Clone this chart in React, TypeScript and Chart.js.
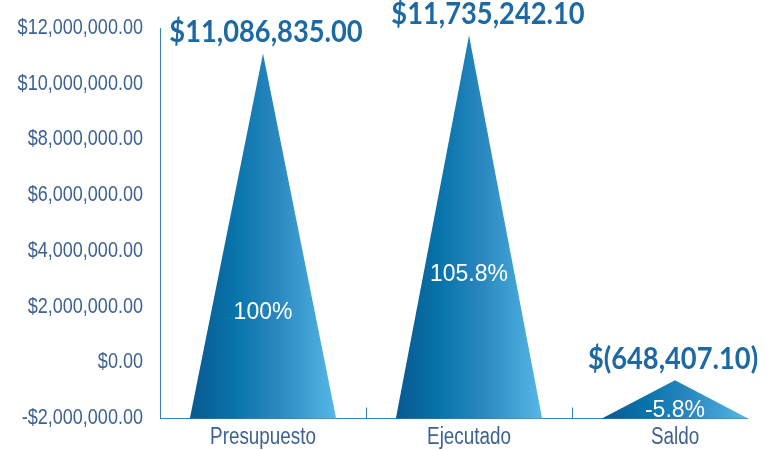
import React, { useEffect, useRef } from 'react';
import { Chart, registerables } from 'chart.js';

Chart.register(...registerables);

// ---- data ----
const categories: string[] = ['Presupuesto', 'Ejecutado', 'Saldo'];
const values: number[] = [11086835.0, 11735242.1, -648407.1];
const yMin = -2000000;
const yMax = 12000000;
const yStep = 2000000;

// ---- formatting ----
const withCommas = (v: number) => {
  const [i, d] = Math.abs(v).toFixed(2).split('.');
  return i.replace(/\B(?=(\d{3})+(?!\d))/g, ',') + '.' + d;
};
const tickLabel = (v: number) => (v < 0 ? '-' : '') + '$' + withCommas(v);
const dataLabel = (v: number) => (v < 0 ? `$(${withCommas(v)})` : `$${withCommas(v)}`);
const pctLabel = (v: number) => {
  const p = (v / values[0]) * 100;
  let s = p.toFixed(1);
  if (s.endsWith('.0')) s = s.slice(0, -2);
  return s + '%';
};

// ---- styles ----
const AXIS_COLOR = '#3b7fc0';
const TEXT_COLOR = '#3d6290';
const LABEL_COLOR = '#1c69a4';
const SANS = "'Liberation Sans', Arial, sans-serif";
const NARROW_SCALE = 0.82;
const pctFrac = [0.29, 0.375, 0.2];
const labelDx = [3, 19, -2];

function drawNarrow(ctx: CanvasRenderingContext2D, text: string, x: number, y: number, align: CanvasTextAlign) {
  ctx.save();
  ctx.translate(x, y);
  ctx.scale(NARROW_SCALE, 1);
  ctx.textAlign = align;
  ctx.textBaseline = 'middle';
  ctx.fillText(text, 0, 0);
  ctx.restore();
}

const pyramidPlugin = {
  id: 'pyramids',
  beforeDatasetsDraw(chart: any) {
    const { ctx, chartArea } = chart;
    const meta = chart.getDatasetMeta(0);
    const xs = chart.scales.x;
    const ys = chart.scales.y;
    const last: any = meta.data[meta.data.length - 1];
    const right = last.x + last.width / 2;
    const yAxis = Math.round(chartArea.bottom) + 0.5;
    ctx.save();
    ctx.strokeStyle = AXIS_COLOR;
    ctx.lineWidth = 1;
    ctx.beginPath();
    ctx.moveTo(chartArea.left, yAxis);
    ctx.lineTo(right, yAxis);
    for (let i = 1; i < categories.length; i++) {
      const bx = Math.round((xs.getPixelForValue(i - 1) + xs.getPixelForValue(i)) / 2) + 0.5;
      ctx.moveTo(bx, yAxis);
      ctx.lineTo(bx, yAxis - 11);
    }
    ctx.stroke();

    // axis labels (narrow)
    ctx.fillStyle = TEXT_COLOR;
    ctx.font = `22px ${SANS}`;
    ys.ticks.forEach((t: any) => {
      drawNarrow(ctx, tickLabel(t.value), chartArea.left - 17, ys.getPixelForValue(t.value), 'right');
    });
    ctx.font = `23px ${SANS}`;
    categories.forEach((c, i) => {
      drawNarrow(ctx, c, xs.getPixelForValue(i), chartArea.bottom + 20, 'center');
    });
    ctx.restore();
  },
  afterDatasetsDraw(chart: any) {
    const { ctx } = chart;
    const meta = chart.getDatasetMeta(0);
    ctx.save();
    meta.data.forEach((bar: any, i: number) => {
      const { x, y, base, width } = bar.getProps(['x', 'y', 'base', 'width'], true);
      const l = x - width / 2;
      const r = x + width / 2;
      const g = ctx.createLinearGradient(l, 0, r, 0);
      g.addColorStop(0, '#08598f');
      g.addColorStop(0.3, '#0873ab');
      g.addColorStop(0.6, '#2a88bf');
      g.addColorStop(1, '#55b7e7');
      ctx.fillStyle = g;
      ctx.beginPath();
      ctx.moveTo(l, base + 0.5);
      ctx.lineTo(x, y);
      ctx.lineTo(r, base + 0.5);
      ctx.closePath();
      ctx.fill();

      // percent label inside
      ctx.fillStyle = '#ffffff';
      ctx.font = `23px ${SANS}`;
      ctx.textAlign = 'center';
      ctx.textBaseline = 'middle';
      const py = base - pctFrac[i] * (base - y);
      ctx.fillText(pctLabel(values[i]), x, py);

      // value label above tip
      ctx.save();
      ctx.translate(x + labelDx[i], y - 21);
      ctx.scale(0.88, 1);
      ctx.fillStyle = LABEL_COLOR;
      ctx.font = "bold 31px Lato, 'Open Sans', sans-serif";
      ctx.fillText(dataLabel(values[i]), 0, 0);
      ctx.restore();
    });
    ctx.restore();
  },
};

export default function App() {
  const ref = useRef<HTMLCanvasElement | null>(null);
  useEffect(() => {
    if (!ref.current) return;
    const chart = new Chart(ref.current, {
      type: 'bar',
      data: {
        labels: categories,
        datasets: [
          {
            data: values,
            base: yMin,
            backgroundColor: 'rgba(0,0,0,0)',
            borderWidth: 0,
            barPercentage: 0.71,
            categoryPercentage: 1,
          } as any,
        ],
      },
      options: {
        animation: false,
        responsive: true,
        maintainAspectRatio: false,
        layout: { padding: { left: 15, right: 12, top: 28, bottom: 0 } },
        plugins: { legend: { display: false }, tooltip: { enabled: false } },
        scales: {
          x: {
            grid: { display: false },
            border: { display: false },
            ticks: { display: false },
            afterFit: (s: any) => {
              s.height = 32;
            },
          },
          y: {
            min: yMin,
            max: yMax,
            grid: { display: false },
            border: { display: true, color: AXIS_COLOR, width: 1 },
            ticks: {
              display: false,
              stepSize: yStep,
            },
            afterFit: (s: any) => {
              s.width = 145;
            },
          },
        },
      },
      plugins: [pyramidPlugin],
    });
    return () => chart.destroy();
  }, []);

  return (
    <div
      style={{
        position: 'fixed',
        left: 0,
        top: 0,
        width: 767,
        height: 450,
        overflow: 'hidden',
        background: '#ffffff',
      }}
    >
      <div style={{ position: 'relative', width: 790, height: 450 }}>
        <canvas ref={ref} />
      </div>
    </div>
  );
}
